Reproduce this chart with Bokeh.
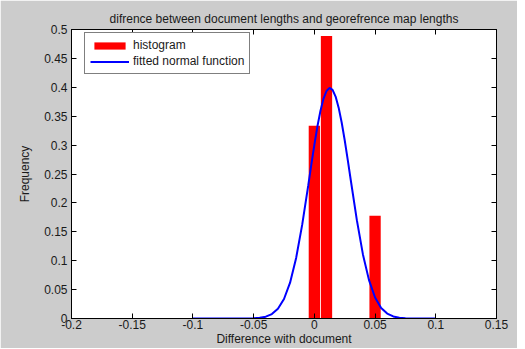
from bokeh.plotting import figure
from bokeh.models import (Range1d, FixedTicker, NumeralTickFormatter, LinearAxis,
                          Legend, LegendItem, CustomJSTickFormatter)
from bokeh.embed import file_html
from bokeh.resources import INLINE

# ---- data ----
bin_centers = [0.0, 0.01, 0.02, 0.03, 0.04, 0.05]
bin_freq = [0.3333, 0.4889, 0.0, 0.0, 0.0, 0.1778]

curve_x = [-0.1, -0.06, -0.05, -0.045, -0.04, -0.035, -0.03, -0.025, -0.02, -0.015,
           -0.01, -0.005, -0.0025, 0.0, 0.0025, 0.005, 0.0075, 0.01, 0.0125, 0.015,
           0.0175, 0.02, 0.0225, 0.025, 0.0275, 0.03, 0.035, 0.04, 0.045, 0.05,
           0.055, 0.06, 0.065, 0.07, 0.075, 0.08, 0.1]
curve_y = [0.0, 0.00004, 0.00044, 0.0012, 0.0032, 0.0077, 0.0168, 0.0337, 0.062, 0.1048,
           0.1624, 0.2306, 0.2661, 0.3005, 0.3321, 0.3591, 0.3801, 0.3936, 0.399, 0.3957,
           0.384, 0.3648, 0.3391, 0.3084, 0.2745, 0.2392, 0.1701, 0.1109, 0.0664, 0.0364,
           0.0183, 0.0085, 0.0036, 0.0014, 0.0005, 0.00016, 0.0]

x_ticks = [-0.2, -0.15, -0.1, -0.05, 0.0, 0.05, 0.1, 0.15]
y_ticks = [0.0, 0.05, 0.1, 0.15, 0.2, 0.25, 0.3, 0.35, 0.4, 0.45, 0.5]

title_text = "difrence between document lengths and georefrence map lengths"
x_label = "Difference with document"
y_label = "Frequency"
legend_labels = ["histogram", "fitted normal function"]

FONT = "Liberation Sans"
GRAY = "#cccccc"
TXT = "#1a1a1a"

p = figure(width=517, height=348, output_backend="svg", toolbar_location=None,
           x_range=Range1d(-0.2, 0.15), y_range=Range1d(0, 0.5),
           min_border_left=71, min_border_right=21, min_border_top=29,
           min_border_bottom=30, background_fill_color="white",
           border_fill_color=GRAY, outline_line_color="black", outline_line_width=1)

p.title.text = title_text
p.title.align = "center"
p.title.text_font = FONT
p.title.text_font_size = "12px"
p.title.text_font_style = "normal"
p.title.text_color = TXT
p.title.standoff = 8

p.grid.visible = False

bars = p.vbar(x=bin_centers, top=bin_freq, width=0.0093, fill_color="#ff0000",
              line_color=None)
line = p.line(curve_x, curve_y, line_color="#0000ff", line_width=2)


def style_axis(ax):
    ax.major_tick_in = 5
    ax.major_tick_out = 0
    ax.minor_tick_in = 0
    ax.minor_tick_out = 0
    ax.axis_line_color = "black"
    ax.major_tick_line_color = "black"
    ax.major_label_text_font = FONT
    ax.major_label_text_font_size = "12px"
    ax.major_label_text_color = TXT
    ax.axis_label_text_font = FONT
    ax.axis_label_text_font_size = "12px"
    ax.axis_label_text_font_style = "normal"
    ax.axis_label_text_color = TXT


p.xaxis.ticker = FixedTicker(ticks=x_ticks)
p.yaxis.ticker = FixedTicker(ticks=y_ticks)
p.xaxis.formatter = NumeralTickFormatter(format="0.[00]")
p.yaxis.formatter = NumeralTickFormatter(format="0.[00]")
p.xaxis.axis_label = x_label
p.yaxis.axis_label = y_label
style_axis(p.xaxis[0])
style_axis(p.yaxis[0])
p.xaxis.major_label_standoff = 1
p.xaxis.axis_label_standoff = 0
p.yaxis.major_label_standoff = 4
p.yaxis.axis_label_standoff = 9

empty = CustomJSTickFormatter(code='return ""')
top_ax = LinearAxis(ticker=FixedTicker(ticks=x_ticks), formatter=empty)
right_ax = LinearAxis(ticker=FixedTicker(ticks=y_ticks), formatter=empty)
style_axis(top_ax)
style_axis(right_ax)
top_ax.major_label_standoff = 0
right_ax.major_label_standoff = 0
p.add_layout(top_ax, "above")
p.add_layout(right_ax, "right")

legend = Legend(items=[LegendItem(label=legend_labels[0], renderers=[bars]),
                       LegendItem(label=legend_labels[1], renderers=[line])],
                location=(13, 244), orientation="vertical")
legend.border_line_color = "black"
legend.border_line_width = 1
legend.background_fill_color = "white"
legend.background_fill_alpha = 1
legend.label_text_font = FONT
legend.label_text_font_size = "12px"
legend.label_text_color = TXT
legend.glyph_width = 39
legend.glyph_height = 9
legend.label_height = 14
legend.label_standoff = 4
legend.padding = 5
legend.spacing = 2
legend.margin = 0
p.add_layout(legend, "center")

open("out.html", "w").write(file_html(p, INLINE))
